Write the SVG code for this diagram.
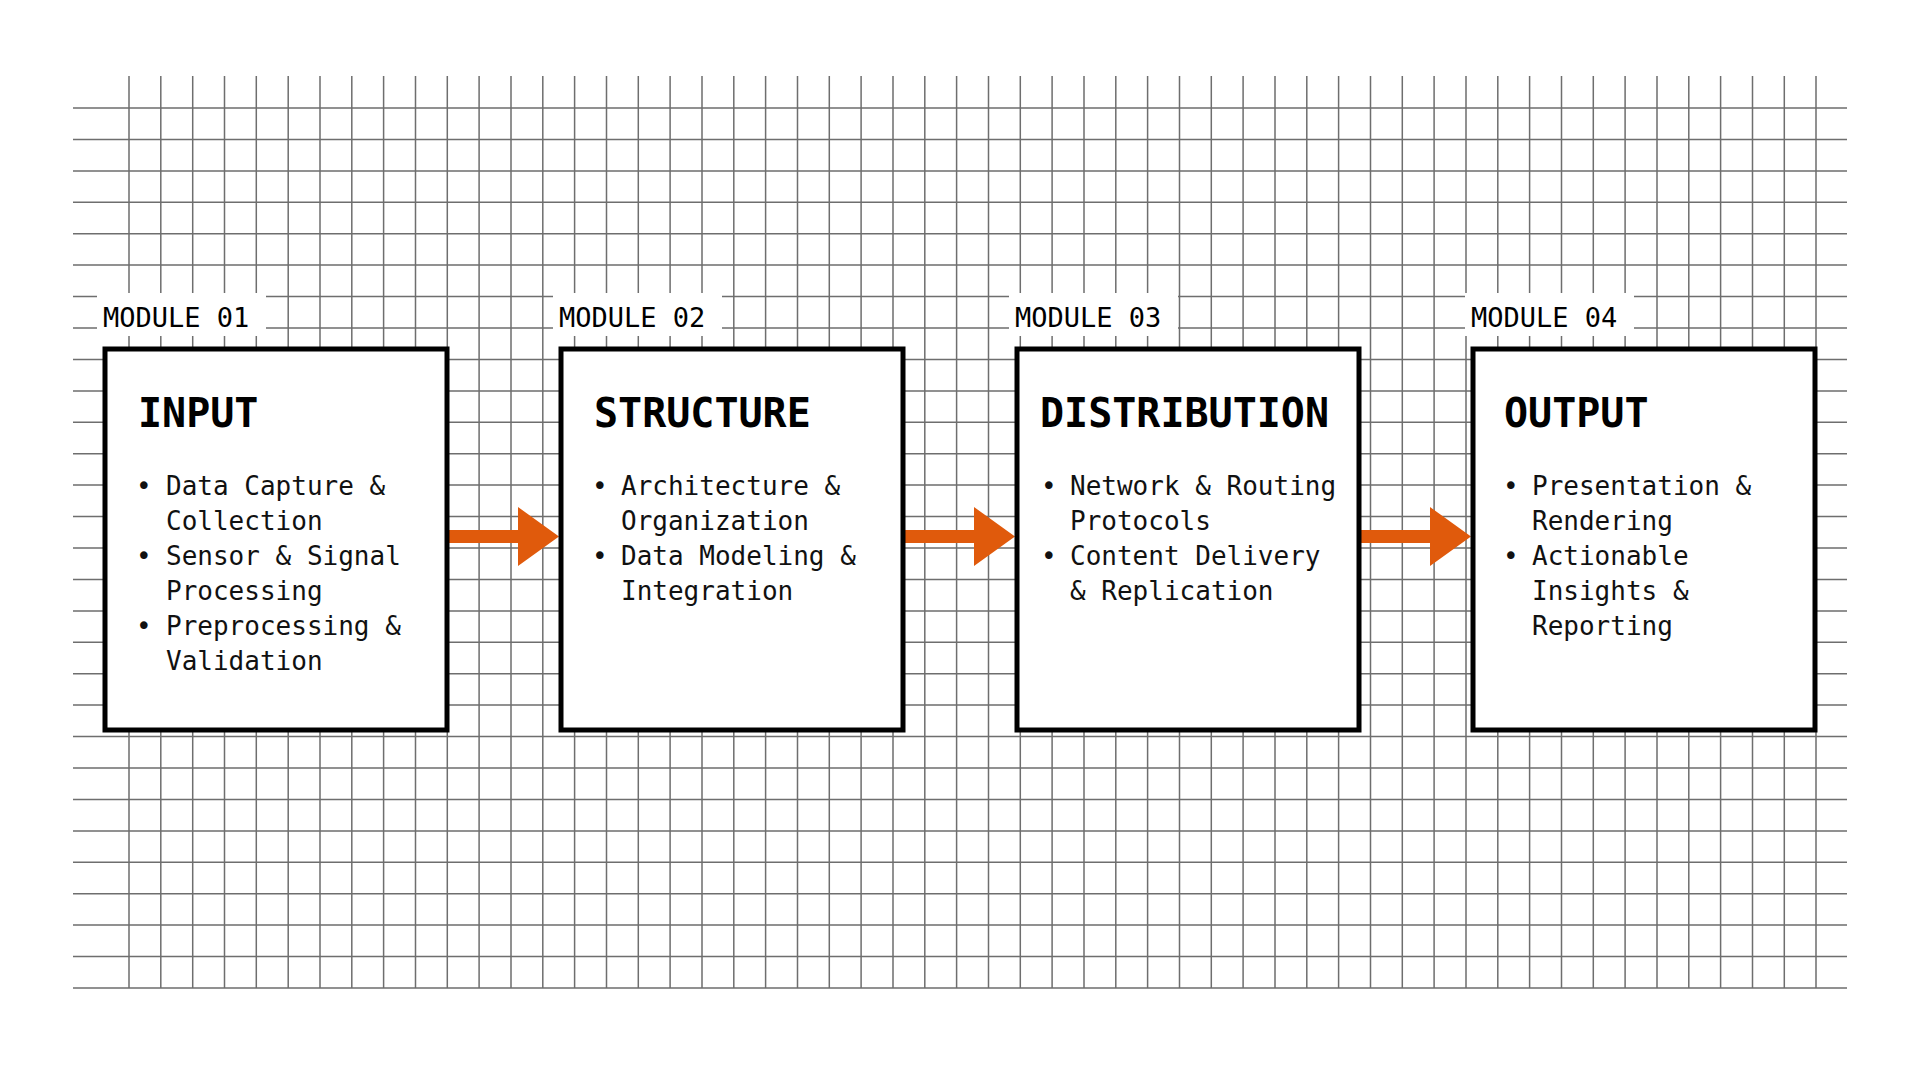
<svg xmlns="http://www.w3.org/2000/svg" width="1920" height="1072" viewBox="0 0 1920 1072">
<style>
.g{stroke:#6e6e6e;stroke-width:1.5}
.box{fill:#fff;stroke:#000;stroke-width:5}
.lbl{font-family:"DejaVu Sans Mono","Liberation Mono",monospace;font-size:27px;fill:#000}
.ttl{font-family:"DejaVu Sans Mono","Liberation Mono",monospace;font-size:40px;font-weight:bold;fill:#000}
.it{font-family:"DejaVu Sans Mono","Liberation Mono",monospace;font-size:26px;fill:#111}
.arr{fill:#E05A0C}
</style>
<rect width="1920" height="1072" fill="#fff"/>
<g id="grid">
<path class="g" d="M129 76V988M160.8 76V988M192.7 76V988M224.5 76V988M256.3 76V988M288.2 76V988M320 76V988M351.8 76V988M383.6 76V988M415.5 76V988M447.3 76V988M479.1 76V988M511 76V988M542.8 76V988M574.6 76V988M606.5 76V988M638.3 76V988M670.1 76V988M702 76V988M733.8 76V988M765.6 76V988M797.5 76V988M829.3 76V988M861.1 76V988M893 76V988M924.8 76V988M956.6 76V988M988.5 76V988M1020.3 76V988M1052.1 76V988M1084 76V988M1115.8 76V988M1147.6 76V988M1179.5 76V988M1211.3 76V988M1243.1 76V988M1275 76V988M1306.8 76V988M1338.6 76V988M1370.5 76V988M1402.3 76V988M1434.1 76V988M1466 76V988M1497.8 76V988M1529.6 76V988M1561.5 76V988M1593.3 76V988M1625.1 76V988M1657 76V988M1688.8 76V988M1720.6 76V988M1752.5 76V988M1784.3 76V988M1816 76V988"/>
<path class="g" d="M73 108H1847M73 139.4H1847M73 170.9H1847M73 202.3H1847M73 233.7H1847M73 265.1H1847M73 296.6H1847M73 328H1847M73 359.4H1847M73 390.9H1847M73 422.3H1847M73 453.7H1847M73 485.1H1847M73 516.6H1847M73 548H1847M73 579.4H1847M73 610.9H1847M73 642.3H1847M73 673.7H1847M73 705.1H1847M73 736.6H1847M73 768H1847M73 799.4H1847M73 830.9H1847M73 862.3H1847M73 893.7H1847M73 925.1H1847M73 956.6H1847M73 988H1847"/>
</g>
<g id="connectors">
<path class="arr" d="M449 530H518V507L559 536.5L518 566V543H449Z"/>
<path class="arr" d="M905 530H974V507L1015 536.5L974 566V543H905Z"/>
<path class="arr" d="M1361 530H1430V507L1471 536.5L1430 566V543H1361Z"/>
</g>
<g id="module1">
<rect x="97" y="293" width="169" height="43" fill="#fff"/>
<text class="lbl" x="103" y="327">MODULE 01</text>
<rect class="box" x="105" y="349" width="342" height="381"/>
<text class="ttl" x="138" y="427">INPUT</text>
<text class="it" x="136" y="495">•</text><text class="it" x="166" y="495">Data Capture &amp;</text>
<text class="it" x="166" y="530">Collection</text>
<text class="it" x="136" y="565">•</text><text class="it" x="166" y="565">Sensor &amp; Signal</text>
<text class="it" x="166" y="600">Processing</text>
<text class="it" x="136" y="635">•</text><text class="it" x="166" y="635">Preprocessing &amp;</text>
<text class="it" x="166" y="670">Validation</text>
</g>
<g id="module2">
<rect x="553" y="293" width="169" height="43" fill="#fff"/>
<text class="lbl" x="559" y="327">MODULE 02</text>
<rect class="box" x="561" y="349" width="342" height="381"/>
<text class="ttl" x="594" y="427">STRUCTURE</text>
<text class="it" x="592" y="495">•</text><text class="it" x="621" y="495">Architecture &amp;</text>
<text class="it" x="621" y="530">Organization</text>
<text class="it" x="592" y="565">•</text><text class="it" x="621" y="565">Data Modeling &amp;</text>
<text class="it" x="621" y="600">Integration</text>
</g>
<g id="module3">
<rect x="1009" y="293" width="169" height="43" fill="#fff"/>
<text class="lbl" x="1015" y="327">MODULE 03</text>
<rect class="box" x="1017" y="349" width="342" height="381"/>
<text class="ttl" x="1040" y="427">DISTRIBUTION</text>
<text class="it" x="1041" y="495">•</text><text class="it" x="1070" y="495">Network &amp; Routing</text>
<text class="it" x="1070" y="530">Protocols</text>
<text class="it" x="1041" y="565">•</text><text class="it" x="1070" y="565">Content Delivery</text>
<text class="it" x="1070" y="600">&amp; Replication</text>
</g>
<g id="module4">
<rect x="1465" y="293" width="169" height="43" fill="#fff"/>
<text class="lbl" x="1471" y="327">MODULE 04</text>
<rect class="box" x="1473" y="349" width="342" height="381"/>
<text class="ttl" x="1504" y="427">OUTPUT</text>
<text class="it" x="1503" y="495">•</text><text class="it" x="1532" y="495">Presentation &amp;</text>
<text class="it" x="1532" y="530">Rendering</text>
<text class="it" x="1503" y="565">•</text><text class="it" x="1532" y="565">Actionable</text>
<text class="it" x="1532" y="600">Insights &amp;</text>
<text class="it" x="1532" y="635">Reporting</text>
</g>
</svg>
